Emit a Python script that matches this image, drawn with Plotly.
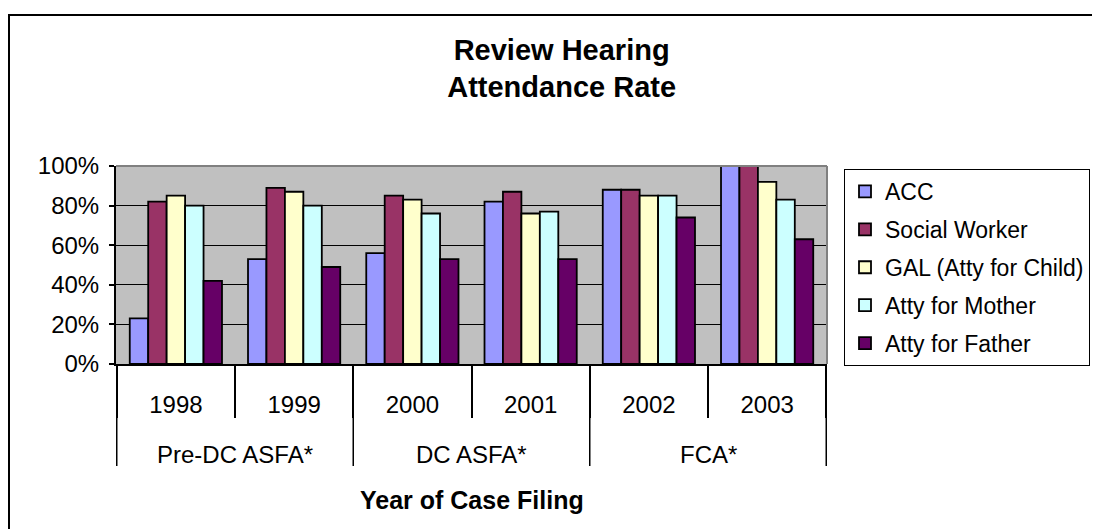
import plotly.graph_objects as go

years = ['1998', '1999', '2000', '2001', '2002', '2003']
periods = ['Pre-DC ASFA*', 'Pre-DC ASFA*', 'DC ASFA*', 'DC ASFA*', 'FCA*', 'FCA*']

acc = [0.23, 0.53, 0.56, 0.82, 0.88, 1.00]
social_worker = [0.82, 0.89, 0.85, 0.87, 0.88, 1.00]
gal = [0.85, 0.87, 0.83, 0.76, 0.85, 0.92]
atty_mother = [0.80, 0.80, 0.76, 0.77, 0.85, 0.83]
atty_father = [0.42, 0.49, 0.53, 0.53, 0.74, 0.63]

series = [
  ('ACC', acc, '#9999FF'),
  ('Social Worker', social_worker, '#993366'),
  ('GAL (Atty for Child)', gal, '#FFFFCC'),
  ('Atty for Mother', atty_mother, '#CCFFFF'),
  ('Atty for Father', atty_father, '#660066'),
]

font = 'Liberation Sans, Arial, sans-serif'

# page has an 8px body margin, so the figure is drawn at (8, 8)
W, H = 1092, 521
L, R, T, B = 108, 273, 158, 165
ph = H - T - B  # plot height in px
pw = W - L - R

def py(px):  # pixel offset below the x axis -> paper y
  return -px / ph

fig = go.Figure()
for name, vals, color in series:
  fig.add_trace(go.Bar(
    x=years, y=vals, name=name, legendgroup=name,
    marker=dict(color=color, line=dict(color='black', width=1.8)),
  ))

fig.update_layout(
  width=W, height=H,
  margin=dict(l=L, r=R, t=T, b=B),
  paper_bgcolor='white', plot_bgcolor='#C0C0C0',
  font=dict(family=font, size=24, color='black'),
  barmode='group', bargap=0.22, bargroupgap=0,
  title=dict(text='<b>Review Hearing<br>Attendance Rate</b>', x=0.507, xanchor='center',
             yref='container', y=0.901, yanchor='top', font=dict(size=29)),
  legend=dict(xref='container', yref='container', x=836 / W, y=1 - 161 / H,
              xanchor='left', yanchor='top', font=dict(size=23),
              bordercolor='black', borderwidth=1, bgcolor='white',
              tracegroupgap=5, itemwidth=30, traceorder='grouped'),
  showlegend=True,
)

fig.update_yaxes(
  range=[0, 1], dtick=0.2, tickformat='.0%',
  showgrid=True, gridcolor='black', gridwidth=1,
  ticks='outside', ticklen=5, tickcolor='black', tickwidth=1.5,
  ticklabelstandoff=5,
  showline=True, linecolor='black', linewidth=2, zeroline=False,
)
fig.update_xaxes(
  type='category', showline=True, linecolor='black', linewidth=2,
  ticks='outside', tickson='boundaries', ticklen=52, tickcolor='black', tickwidth=1.5,
  ticklabelstandoff=18,
)

# group labels and dividers below the year row
groups = list(dict.fromkeys(periods))
for g in groups:
  idx = [i for i, p in enumerate(periods) if p == g]
  fig.add_annotation(x=sum(idx) / len(idx), y=py(90), xref='x', yref='paper',
                     text=g, showarrow=False, font=dict(size=24), yanchor='middle')
bounds = [-0.5] + [i + 0.5 for i in range(len(periods) - 1) if periods[i] != periods[i + 1]] + [len(periods) - 0.5]
for b in bounds:
  fig.add_shape(type='line', xref='x', yref='paper', x0=b, x1=b, y0=0, y1=py(102),
                line=dict(color='black', width=1.5))

fig.add_annotation(x=0.5, y=py(136), xref='paper', yref='paper', text='<b>Year of Case Filing</b>',
                   showarrow=False, font=dict(size=25), yanchor='middle')

# plot area border (top/right) and outer chart frame
fig.add_shape(type='line', xref='paper', yref='paper', x0=0, x1=1, y0=1, y1=1,
              line=dict(color='#808080', width=2))
fig.add_shape(type='line', xref='paper', yref='paper', x0=1, x1=1, y0=0, y1=1,
              line=dict(color='#808080', width=2))
fig.add_shape(type='rect', xref='paper', yref='paper',
              x0=(1 - L) / pw, x1=(1120 - L) / pw,
              y0=(ph - 540) / ph, y1=(ph + T - 7) / ph,
              line=dict(color='black', width=2), layer='below')

fig.write_html('out.html')
